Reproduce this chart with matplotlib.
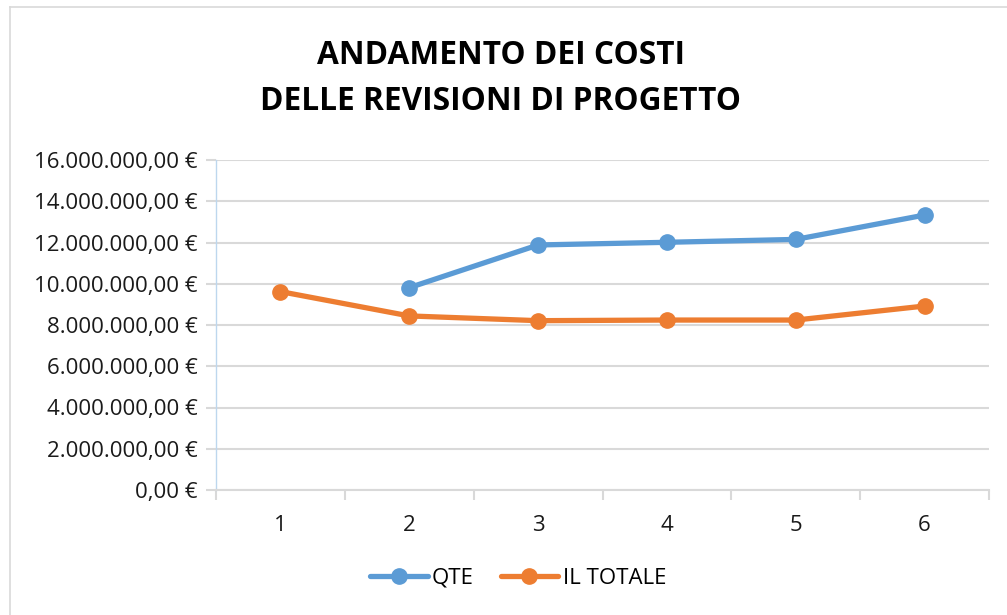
import matplotlib.pyplot as plt
import numpy as np
from matplotlib.ticker import FuncFormatter, FixedLocator

# Data
revisioni = [1, 2, 3, 4, 5, 6]
qte = [np.nan, 9810000, 11880000, 12010000, 12150000, 13330000]
il_totale = [9620000, 8440000, 8210000, 8240000, 8240000, 8920000]

blue = '#5b9bd5'
orange = '#ed7d31'
grid_col = '#d9d9d9'

plt.rcParams['font.family'] = ['Open Sans', 'DejaVu Sans']

fig = plt.figure(figsize=(10.07, 6.15), dpi=100)
ax = fig.add_axes([216 / 1007, 1 - 490 / 615, (989 - 216) / 1007, 330 / 615])

ax.plot(revisioni, qte, color=blue, lw=3.8, marker='o', ms=11,
        solid_capstyle='round', label='QTE')
ax.plot(revisioni, il_totale, color=orange, lw=3.8, marker='o', ms=11,
        solid_capstyle='round', label='IL TOTALE')

ax.set_ylim(0, 16000000)
ax.set_xlim(0.5, 6.5)
ax.set_yticks(np.arange(0, 16000001, 2000000))


def euro(v, pos):
    s = f"{v:,.2f}".replace(',', 'X').replace('.', ',').replace('X', '.')
    return s + ' €'


ax.yaxis.set_major_formatter(FuncFormatter(euro))

# category labels in the middle, tick marks on the boundaries
ax.xaxis.set_major_locator(FixedLocator(np.arange(0.5, 7, 1)))
ax.xaxis.set_minor_locator(FixedLocator(revisioni))
ax.xaxis.set_major_formatter(FuncFormatter(lambda v, p: ''))
ax.xaxis.set_minor_formatter(FuncFormatter(lambda v, p: str(int(round(v)))))
ax.tick_params(axis='x', which='major', length=7, color=grid_col, width=1.5)
ax.tick_params(axis='x', which='minor', length=0, pad=18, labelsize=16,
               labelcolor='#1a1a1a')
ax.tick_params(axis='y', length=7, color=grid_col, width=1.5, pad=6,
               labelsize=16, labelcolor='#1a1a1a')

ax.grid(axis='y', color=grid_col, lw=1.5)
ax.set_axisbelow(True)
for s in ['top', 'right']:
    ax.spines[s].set_visible(False)
ax.spines['left'].set_color('#bdd7ee')
ax.spines['left'].set_linewidth(1)
ax.spines['bottom'].set_color(grid_col)
ax.spines['bottom'].set_linewidth(1.5)

fig.text(501 / 1007, 1 - 55 / 615, 'ANDAMENTO DEI COSTI',
         ha='center', va='center', fontsize=22.8, fontweight='bold', color='black')
fig.text(501 / 1007, 1 - 102 / 615, 'DELLE REVISIONI DI PROGETTO',
         ha='center', va='center', fontsize=22.8, fontweight='bold', color='black')

fig.legend(loc='center', bbox_to_anchor=(518 / 1007, 1 - 578 / 615), ncol=2,
           frameon=False, fontsize=16, handlelength=2.6, columnspacing=1.2,
           handletextpad=0.2)

# chart area border (left and top visible in the reference)
fig.add_artist(plt.Line2D([10 / 1007, 10 / 1007], [0, 1 - 7 / 615],
                          transform=fig.transFigure, color=grid_col, lw=1.2))
fig.add_artist(plt.Line2D([10 / 1007, 1], [1 - 7 / 615, 1 - 7 / 615],
                          transform=fig.transFigure, color=grid_col, lw=1.2))

fig.savefig('out.png', dpi=100)
